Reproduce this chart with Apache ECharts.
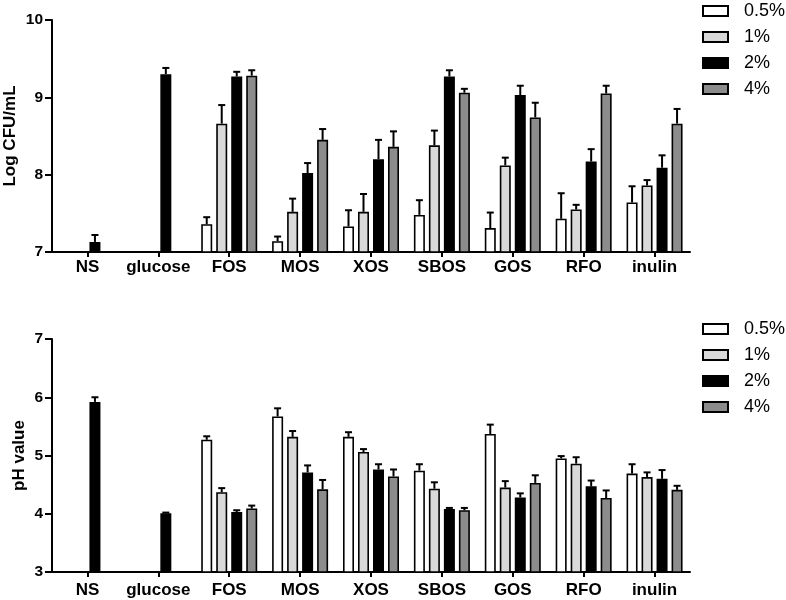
<!DOCTYPE html>
<html><head><meta charset="utf-8">
<script src="https://cdn.jsdelivr.net/npm/echarts@6/dist/echarts.min.js"></script>
<style>html,body{margin:0;padding:0;background:#fff}#c{width:786px;height:600px}</style>
</head><body><div id="c"></div>
<script>
const categories = ['NS','glucose','FOS','MOS','XOS','SBOS','GOS','RFO','inulin'];
const seriesNames = ['0.5%','1%','2%','4%'];
// Top panel: Log CFU/mL
const cfu05 = [null, null, 7.36, 7.14, 7.33, 7.48, 7.31, 7.43, 7.64];
const cfu1  = [null, null, 8.66, 7.52, 7.52, 8.38, 8.12, 7.55, 7.86];
const cfu2  = [7.13, 9.30, 9.27, 8.02, 8.20, 9.27, 9.03, 8.17, 8.09];
const cfu4  = [null, null, 9.28, 8.45, 8.36, 9.06, 8.74, 9.05, 8.66];
const cfu05Err = [null, null, 0.09, 0.06, 0.21, 0.19, 0.20, 0.33, 0.21];
const cfu1Err  = [null, null, 0.24, 0.17, 0.23, 0.19, 0.10, 0.06, 0.07];
const cfu2Err  = [0.09, 0.08, 0.06, 0.13, 0.25, 0.08, 0.12, 0.16, 0.16];
const cfu4Err  = [null, null, 0.07, 0.14, 0.20, 0.05, 0.19, 0.10, 0.19];
// Bottom panel: pH value
const ph05 = [null, null, 5.27, 5.67, 5.32, 4.74, 5.37, 4.95, 4.69];
const ph1  = [null, null, 4.37, 5.32, 5.06, 4.43, 4.45, 4.86, 4.63];
const ph2  = [5.92, 4.01, 4.03, 4.71, 4.76, 4.08, 4.28, 4.47, 4.60];
const ph4  = [null, null, 4.09, 4.42, 4.64, 4.06, 4.53, 4.27, 4.41];
const ph05Err = [null, null, 0.06, 0.14, 0.08, 0.11, 0.16, 0.04, 0.16];
const ph1Err  = [null, null, 0.07, 0.10, 0.05, 0.11, 0.11, 0.11, 0.08];
const ph2Err  = [0.08, 0.01, 0.03, 0.12, 0.09, 0.02, 0.07, 0.10, 0.15];
const ph4Err  = [null, null, 0.05, 0.16, 0.12, 0.04, 0.13, 0.13, 0.07];
const cfuTicks = [7, 8, 9, 10];
const phTicks = [3, 4, 5, 6, 7];

const colors = ['#ffffff', '#d9d9d9', '#000000', '#8c8c8c'];
const FONT = 'Liberation Sans, Arial, sans-serif';
const BW = 11, GAP = 4;
const offsets = [0,1,2,3].map(i => -(4*BW+3*GAP)/2 + i*(BW+GAP) + BW/2);

function errSeries(vals, errs, idx, gi) {
  const data = [];
  vals.forEach((v, i) => { if (v != null && errs[i] != null) data.push([i, v, errs[i]]); });
  return {
    type: 'custom', xAxisIndex: gi, yAxisIndex: gi, z: 5, silent: true,
    renderItem: function (params, api) {
      const c = api.value(0), v = api.value(1), e = api.value(2);
      const p0 = api.coord([c, v]);
      const p1 = api.coord([c, v + e]);
      const x = p0[0] + offsets[idx];
      return { type: 'group', children: [
        { type: 'line', shape: { x1: x, y1: p0[1], x2: x, y2: p1[1] }, style: { stroke: '#000', lineWidth: 2 } },
        { type: 'line', shape: { x1: x - 3.5, y1: p1[1], x2: x + 3.5, y2: p1[1] }, style: { stroke: '#000', lineWidth: 2 } }
      ]};
    },
    data: data
  };
}
function barSeries(vals, idx, gi) {
  return {
    name: seriesNames[idx], type: 'bar', xAxisIndex: gi, yAxisIndex: gi,
    barWidth: BW, barGap: (GAP / BW * 100) + '%',
    itemStyle: { color: colors[idx], borderColor: '#000', borderWidth: 1.6 },
    data: vals, z: 2
  };
}
function xAxis(gi) {
  return {
    type: 'category', gridIndex: gi, data: categories,
    axisLine: { lineStyle: { color: '#000', width: 2 } },
    axisTick: { show: true, alignWithLabel: true, length: 5, lineStyle: { color: '#000', width: 2 } },
    axisLabel: { color: '#000', fontWeight: 'bold', fontSize: 17, fontFamily: FONT, margin: gi === 0 ? 7 : 10, interval: 0 }
  };
}
function yAxis(gi, ticks, name, gap) {
  return {
    type: 'value', gridIndex: gi, min: ticks[0], max: ticks[ticks.length - 1], interval: 1,
    name: name, nameLocation: 'middle', nameGap: gap, nameRotate: 90, nameMoveOverlap: false,
    nameTextStyle: { color: '#000', fontWeight: 'bold', fontSize: 17, fontFamily: FONT },
    axisLine: { show: true, lineStyle: { color: '#000', width: 2 } },
    axisTick: { show: true, length: 7, lineStyle: { color: '#000', width: 2 } },
    axisLabel: { color: '#000', fontWeight: 'bold', fontSize: 15.5, fontFamily: FONT, margin: 9 },
    splitLine: { show: false }
  };
}
function legend(top) {
  return {
    orient: 'vertical', left: 702, top: top, padding: 0, itemWidth: 25, itemHeight: 10, itemGap: 8,
    icon: 'rect', data: seriesNames,
    itemStyle: { borderWidth: 2, borderColor: '#000' },
    textStyle: { color: '#000', fontSize: 18, fontFamily: FONT, padding: [0,0,0,11] }
  };
}
const chart = echarts.init(document.getElementById('c'), null, { renderer: 'canvas' });
chart.setOption({
  animation: false,
  backgroundColor: '#fff',
  grid: [
    { left: 52, right: 96, top: 20, height: 232, containLabel: false, outerBoundsMode: 'none' },
    { left: 52, right: 96, top: 339, height: 233, containLabel: false, outerBoundsMode: 'none' }
  ],
  legend: [legend(2), legend(320)],
  xAxis: [xAxis(0), xAxis(1)],
  yAxis: [yAxis(0, cfuTicks, 'Log CFU/mL', 33), yAxis(1, phTicks, 'pH value', 24)],
  series: [
    barSeries(cfu05, 0, 0), barSeries(cfu1, 1, 0), barSeries(cfu2, 2, 0), barSeries(cfu4, 3, 0),
    errSeries(cfu05, cfu05Err, 0, 0), errSeries(cfu1, cfu1Err, 1, 0), errSeries(cfu2, cfu2Err, 2, 0), errSeries(cfu4, cfu4Err, 3, 0),
    barSeries(ph05, 0, 1), barSeries(ph1, 1, 1), barSeries(ph2, 2, 1), barSeries(ph4, 3, 1),
    errSeries(ph05, ph05Err, 0, 1), errSeries(ph1, ph1Err, 1, 1), errSeries(ph2, ph2Err, 2, 1), errSeries(ph4, ph4Err, 3, 1)
  ]
});
</script></body></html>
